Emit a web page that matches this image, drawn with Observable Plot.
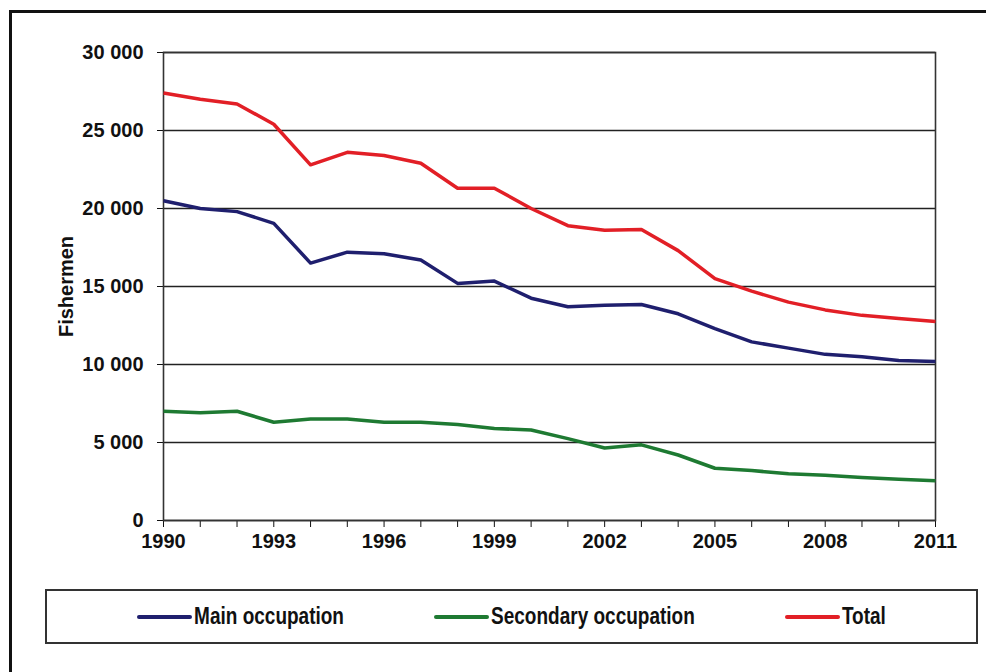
<!DOCTYPE html>
<html><head><meta charset="utf-8">
<script src="https://cdn.jsdelivr.net/npm/d3@7"></script>
<script src="https://cdn.jsdelivr.net/npm/@observablehq/plot@0.6"></script>
<style>
body{margin:0;background:#fff;font-family:"Liberation Sans",Arial,sans-serif;}
#wrap{position:relative;width:986px;height:672px;overflow:hidden;background:#fff;}
#frame{position:absolute;left:9px;top:10px;width:1000px;height:700px;border:3px solid #111;}
#chart{position:absolute;left:0;top:0;}
#legend{position:absolute;left:45px;top:589px;width:929px;height:51px;border:2px solid #333;display:flex;justify-content:space-evenly;align-items:center;background:#fff;}
.item{display:flex;align-items:center;font-weight:bold;font-size:19px;color:#111;}
.item .tx{display:inline-block;transform:scaleY(1.22);}
.sw{width:55px;height:4px;margin-right:2px;border-radius:2px;}
#chart svg text{font-size:20px;}
</style>
</head><body>
<div id="wrap"><div id="frame"></div><div id="chart"></div><div id="legend"></div></div>
<script>
const years = [1990,1991,1992,1993,1994,1995,1996,1997,1998,1999,2000,2001,2002,2003,2004,2005,2006,2007,2008,2009,2010,2011];
const seriesNames = ["Main occupation","Secondary occupation","Total"];
const seriesColors = ["#1f1f6e","#1e7a32","#e21f26"];
const mainOccupation = [20500,20000,19800,19050,16500,17200,17100,16700,15200,15350,14250,13700,13800,13850,13250,12300,11450,11050,10650,10500,10250,10200];
const secondaryOccupation = [7000,6900,7000,6300,6500,6500,6300,6300,6150,5900,5800,5250,4650,4850,4200,3350,3200,3000,2900,2750,2650,2550];
const total = [27400,27000,26700,25400,22800,23600,23400,22900,21300,21300,20000,18900,18600,18650,17300,15500,14700,14000,13500,13150,12950,12750];
const yTicks = [0,5000,10000,15000,20000,25000,30000];
const xLabelYears = [1990,1993,1996,1999,2002,2005,2008,2011];
const yTitle = "Fishermen";

const valuesBySeries = [mainOccupation, secondaryOccupation, total];
const data = [];
seriesNames.forEach((s,i)=>years.forEach((y,j)=>data.push({series:s, year:y, value:valuesBySeries[i][j]})));

const fmt = d3.formatLocale({decimal:".", thousands:"\u00a0", grouping:[3], currency:["",""]}).format(",");

const plot = Plot.plot({
  width: 986,
  height: 560,
  marginLeft: 163,
  marginRight: 51,
  marginTop: 52,
  marginBottom: 40,
  style: {fontFamily: "'Liberation Sans', Arial, sans-serif", fontSize: "20px", fontWeight: "bold", color: "#111", background: "transparent"},
  x: {domain: [1990, 2011], ticks: years, tickFormat: d => xLabelYears.includes(d) ? String(d) : "", tickSize: 7, tickPadding: 6, label: null},
  y: {domain: [0, 30000], ticks: yTicks, tickFormat: d => fmt(d), tickSize: 6, tickPadding: 14, label: null, grid: false},
  color: {domain: seriesNames, range: seriesColors},
  marks: [
    Plot.ruleY(yTicks, {stroke: "#222", strokeWidth: 1.6}),
    Plot.frame({stroke: "#333", strokeWidth: 1.6}),
    Plot.line(data, {x: "year", y: "value", stroke: "series", strokeWidth: 3.5, strokeLinejoin: "round", strokeLinecap: "butt"}),
    Plot.text([yTitle], {frameAnchor: "left", text: d => d, rotate: -90, dx: -97, dy: 0, textAnchor: "middle", fill: "#111", fontSize: 19, fontWeight: "bold"})
  ]
});
document.getElementById("chart").appendChild(plot);

const legend = document.getElementById("legend");
seriesNames.forEach((s,i)=>{
  const it = document.createElement("div"); it.className = "item";
  const sw = document.createElement("span"); sw.className = "sw"; sw.style.background = seriesColors[i];
  const tx = document.createElement("span"); tx.className = "tx"; tx.textContent = s;
  it.appendChild(sw); it.appendChild(tx); legend.appendChild(it);
});
</script>
</body></html>
